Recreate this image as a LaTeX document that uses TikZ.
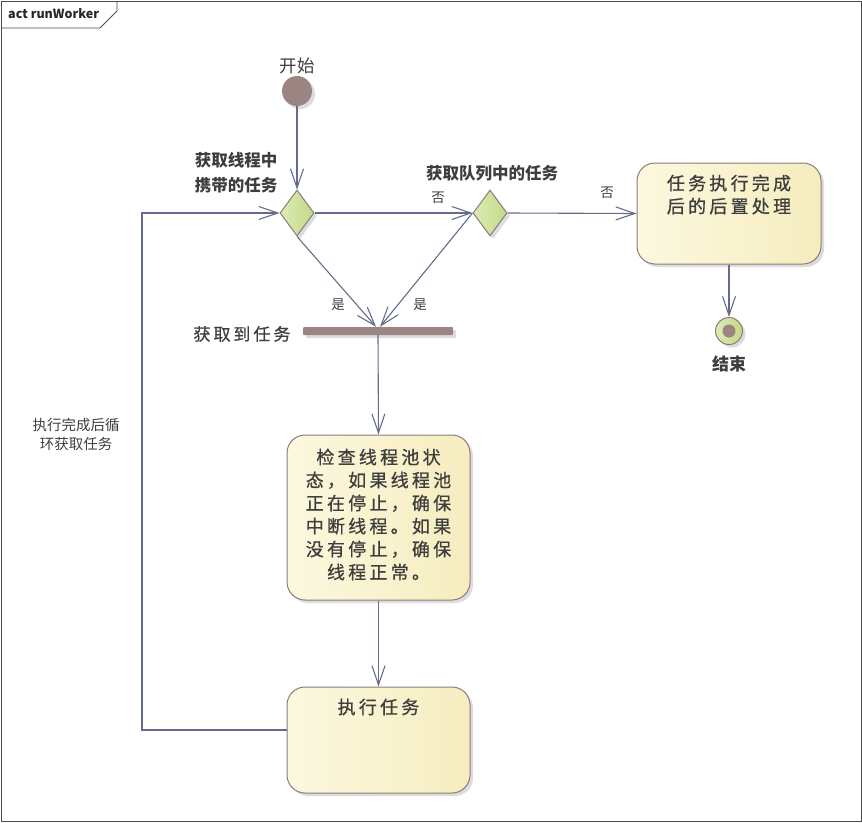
\documentclass[tikz,border=0pt]{standalone}
\usepackage{fontspec}
\setmainfont{Noto Sans CJK SC}
\newfontfamily\boxfont[LetterSpace=18,FakeBold=0.8]{Noto Sans CJK SC}
\usepackage{xcolor}
\usetikzlibrary{arrows.meta,positioning,calc,shapes.geometric,shadows}
\definecolor{ink}{HTML}{3E3E3E}
\definecolor{wire}{HTML}{646C8C}
\definecolor{edge}{HTML}{8C7C78}
\definecolor{stone}{HTML}{9B8582}
\definecolor{leafl}{HTML}{DDEBB5}
\definecolor{leafr}{HTML}{C2D987}
\definecolor{creaml}{HTML}{FCF8DF}
\definecolor{creamr}{HTML}{F5EDBF}
\tikzset{
  shade/.style={drop shadow={shadow xshift=3pt, shadow yshift=-3pt, fill=black!30, opacity=0.45}},
  actbox/.style={draw=edge, line width=1pt, rounded corners=18pt, left color=creaml, right color=creamr, shade, inner sep=0pt},
  choice/.style={diamond, draw=edge, line width=1pt, left color=leafl, right color=leafr, shade, inner sep=0pt, minimum width=34pt, minimum height=46pt},
  boxtext/.style={font=\boxfont\fontsize{18}{23}\selectfont, text=ink, align=center, inner sep=0pt},
  tag/.style={font=\bfseries\fontsize{16.5}{25}\selectfont, text=ink, align=left, inner sep=0pt},
  guard/.style={font=\fontsize{13.5}{16}\selectfont, text=ink, inner sep=0pt},
  flow/.style={-{Straight Barb[length=19pt, width=13pt]}, draw=wire, line width=1.1pt},
}
\begin{document}
\begin{tikzpicture}[x=1pt, y=-1pt]
\useasboundingbox (0,0) rectangle (862,822);
% frame and tab
\draw[black!70, line width=0.8pt] (1,1) rectangle (861,821);
\draw[black!70, line width=0.8pt] (1,28) -- (100,28) -- (117,11) -- (117,1);
\node[font=\bfseries\fontsize{12.5}{14}\selectfont, text=black!85, anchor=west, inner sep=0pt] (frametitle) at (8,14) {act runWorker};
% start and final nodes
\node[circle, fill=stone, shade, minimum size=30pt, inner sep=0pt] (start) at (297,91) {};
\node[font=\fontsize{17.5}{20}\selectfont, text=ink, inner sep=0pt] (startlbl) at (297,66) {开始};
\node[circle, draw=edge, line width=1pt, left color=leafl, right color=leafr, shade, minimum size=27pt, inner sep=0pt] (final) at (729,331) {};
\node[circle, fill=stone, minimum size=13pt, inner sep=0pt] (finaldot) at (final.center) {};
\node[font=\bfseries\fontsize{17}{20}\selectfont, text=ink, inner sep=0pt] (finallbl) at (729,364) {结束};
% decisions
\node[choice] (own) at (297,213) {};
\node[choice] (queue) at (490,213) {};
\node[tag] (ownlbl) at (236,173) {获取线程中\\携带的任务};
\node[tag] (queuelbl) at (492,173) {获取队列中的任务};
% join bar
\node[rectangle, fill=stone, shade, rounded corners=1pt, minimum width=150pt, minimum height=8pt, inner sep=0pt] (got) at (378,331) {};
\node[boxtext, font=\boxfont\fontsize{17}{20}\selectfont] (gotlbl) at (242,334) {获取\,到任务};
% actions
\node[actbox, minimum width=184pt, minimum height=101pt] (post) at (729,213.5) {};
\node[boxtext, anchor=north] (posttxt) at ([yshift=-12pt]post.north) {任务执行完成\\后的后置处理};
\node[actbox, minimum width=183pt, minimum height=165pt] (check) at (378.5,517.5) {};
\node[boxtext] (checktxt) at ([yshift=3pt]check.center) {检查线程池状\\态，如果线程池\\正在停止，确保\\中断线程。如果\\没有停止，确保\\线程正常。};
\node[actbox, minimum width=183pt, minimum height=106pt] (exec) at (378.5,740) {};
\node[boxtext, anchor=north] (exectxt) at ([yshift=-12pt]exec.north) {执行任务};
% connectors
\draw[flow] (start) -- (own.north);
\draw[flow] (own.east) -- (queue.west);
\draw[flow] (queue.east) -- (post.west);
\draw[flow] (post.south) -- (final.north);
\draw[flow] (own.south) -- ([xshift=-2pt]got.north);
\draw[flow] (queue.west) -- ([xshift=2pt]got.north);
\draw[flow] (got.south) -- (check.north);
\draw[flow] (check.south) -- (exec.north);
\coordinate (loopdown) at (142,730);
\coordinate (loopup) at (142,213);
\draw[flow] (exec.west |- loopdown) -- (loopdown) -- (loopup) -- (own.west);
% guards
\node[guard] (no1) at (438,198) {否};
\node[guard] (no2) at (607,193) {否};
\node[guard] (yes1) at (338,305) {是};
\node[guard] (yes2) at (420,305) {是};
\node[guard, align=center, font=\fontsize{14.5}{19}\selectfont] (looplbl) at (76,434) {执行完成后循\\环获取任务};
\end{tikzpicture}
\end{document}
